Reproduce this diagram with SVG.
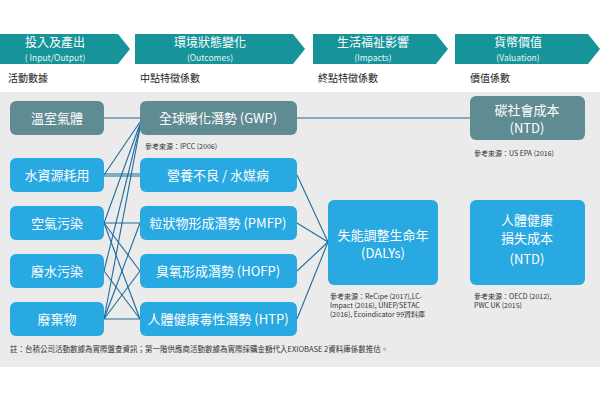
<svg xmlns="http://www.w3.org/2000/svg" width="600" height="400" viewBox="0 0 600 400">
<style>
text{font-family:"Noto Sans CJK TC","Noto Sans",sans-serif}
.h{fill:#fff;font-size:12px;text-anchor:middle}
.hs{fill:#e6f4f4;font-size:8.5px;text-anchor:middle}
.sub{fill:#222;font-size:10px}
.b{fill:#29a9e1}
.g{fill:#5f8b92}
.t{fill:#fff;font-size:13px;text-anchor:middle}
.n{fill:#333;font-size:7px}
.ln{stroke:#1d6d9e;stroke-width:1.1;fill:none}
</style>
<rect width="600" height="400" fill="#fff"/>
<rect x="0" y="92" width="600" height="275" fill="#ebebeb"/>
<g id="headers">
<polygon points="0,34 118,34 130,49 118,64 0,64" fill="#17949a"/>
<polygon points="135,34 293,34 305,49 293,64 135,64" fill="#17949a"/>
<polygon points="313,34 436,34 448,49 436,64 313,64" fill="#17949a"/>
<polygon points="455,34 588,34 600,49 588,64 455,64" fill="#17949a"/>
<text class="h" x="55" y="47">投入及產出</text><text class="hs" x="55" y="61">( Input/Output)</text>
<text class="h" x="210" y="47">環境狀態變化</text><text class="hs" x="210" y="61">(Outcomes)</text>
<text class="h" x="373" y="47">生活福祉影響</text><text class="hs" x="373" y="61">(Impacts)</text>
<text class="h" x="518" y="47">貨幣價值</text><text class="hs" x="518" y="61">(Valuation)</text>
<text class="sub" x="8" y="82">活動數據</text>
<text class="sub" x="140" y="82">中點特徵係數</text>
<text class="sub" x="318" y="82">終點特徵係數</text>
<text class="sub" x="470" y="82">價值係數</text>
</g>
<g id="connectors" class="ln">
<line x1="104" y1="118" x2="140" y2="118"/>
<line x1="297" y1="118" x2="470" y2="118"/>
<line x1="104" y1="174" x2="140" y2="174"/><line x1="104" y1="176" x2="140" y2="176"/>
<line x1="104" y1="175" x2="140" y2="122"/>
<line x1="104" y1="223" x2="140" y2="124"/>
<line x1="104" y1="271" x2="140" y2="126"/>
<line x1="104" y1="319" x2="140" y2="128"/>
<line x1="104" y1="223" x2="140" y2="223"/>
<line x1="104" y1="223" x2="140" y2="271"/>
<line x1="104" y1="223" x2="140" y2="319"/>
<line x1="104" y1="271" x2="140" y2="319"/>
<line x1="104" y1="319" x2="140" y2="223"/>
<line x1="104" y1="319" x2="140" y2="271"/>
<line x1="104" y1="319" x2="140" y2="319"/>
<line x1="297" y1="175" x2="328" y2="242"/>
<line x1="297" y1="223" x2="328" y2="242"/>
<line x1="297" y1="271" x2="328" y2="242"/>
<line x1="297" y1="319" x2="328" y2="242"/>
</g>
<g id="n-ghg"><rect class="g" x="10" y="101" width="94" height="34" rx="6"/><text class="t" x="57" y="123">溫室氣體</text></g>
<g id="n-water"><rect class="b" x="10" y="158" width="94" height="34" rx="6"/><text class="t" x="57" y="180">水資源耗用</text></g>
<g id="n-air"><rect class="b" x="10" y="206" width="94" height="34" rx="6"/><text class="t" x="57" y="228">空氣污染</text></g>
<g id="n-ww"><rect class="b" x="10" y="254" width="94" height="34" rx="6"/><text class="t" x="57" y="276">廢水污染</text></g>
<g id="n-waste"><rect class="b" x="10" y="302" width="94" height="34" rx="6"/><text class="t" x="57" y="324">廢棄物</text></g>
<g id="n-gwp"><rect class="g" x="140" y="101" width="157" height="34" rx="6"/><text class="t" x="218" y="123">全球暖化潛勢 (GWP)</text></g>
<text class="n" x="145" y="149">參考來源：IPCC (2006)</text>
<g id="n-mal"><rect class="b" x="140" y="158" width="157" height="34" rx="6"/><text class="t" x="218" y="180">營養不良 / 水媒病</text></g>
<g id="n-pmfp"><rect class="b" x="140" y="206" width="157" height="34" rx="6"/><text class="t" x="218" y="228">粒狀物形成潛勢 (PMFP)</text></g>
<g id="n-hofp"><rect class="b" x="140" y="254" width="157" height="34" rx="6"/><text class="t" x="218" y="276">臭氧形成潛勢 (HOFP)</text></g>
<g id="n-htp"><rect class="b" x="140" y="302" width="157" height="34" rx="6"/><text class="t" x="218" y="324">人體健康毒性潛勢 (HTP)</text></g>
<g id="n-daly"><rect class="b" x="328" y="200" width="110" height="85" rx="6"/><text class="t" x="383" y="240">失能調整生命年</text><text class="t" x="383" y="258">(DALYs)</text></g>
<text class="n" x="330" y="299">參考來源：ReCipe (2017),LC-</text>
<text class="n" x="330" y="308">Impact (2016), UNEP/SETAC</text>
<text class="n" x="330" y="317">(2016), Ecoindicator 99資料庫</text>
<g id="n-scc"><rect class="g" x="470" y="96" width="115" height="44" rx="6"/><text class="t" x="527" y="115">碳社會成本</text><text class="t" x="527" y="133">(NTD)</text></g>
<text class="n" x="474" y="156">參考來源：US EPA (2016)</text>
<g id="n-hc"><rect class="b" x="470" y="200" width="115" height="85" rx="6"/><text class="t" x="527" y="225">人體健康</text><text class="t" x="527" y="243">損失成本</text><text class="t" x="527" y="264">(NTD)</text></g>
<text class="n" x="474" y="299">參考來源：OECD (2012),</text>
<text class="n" x="474" y="308">PWC UK (2015)</text>
<text class="n" x="10" y="352" style="font-size:7.5px">註：台積公司活動數據為實際盤查資訊；第一階供應商活動數據為實際採購金額代入EXIOBASE 2資料庫係數推估。</text>
</svg>
